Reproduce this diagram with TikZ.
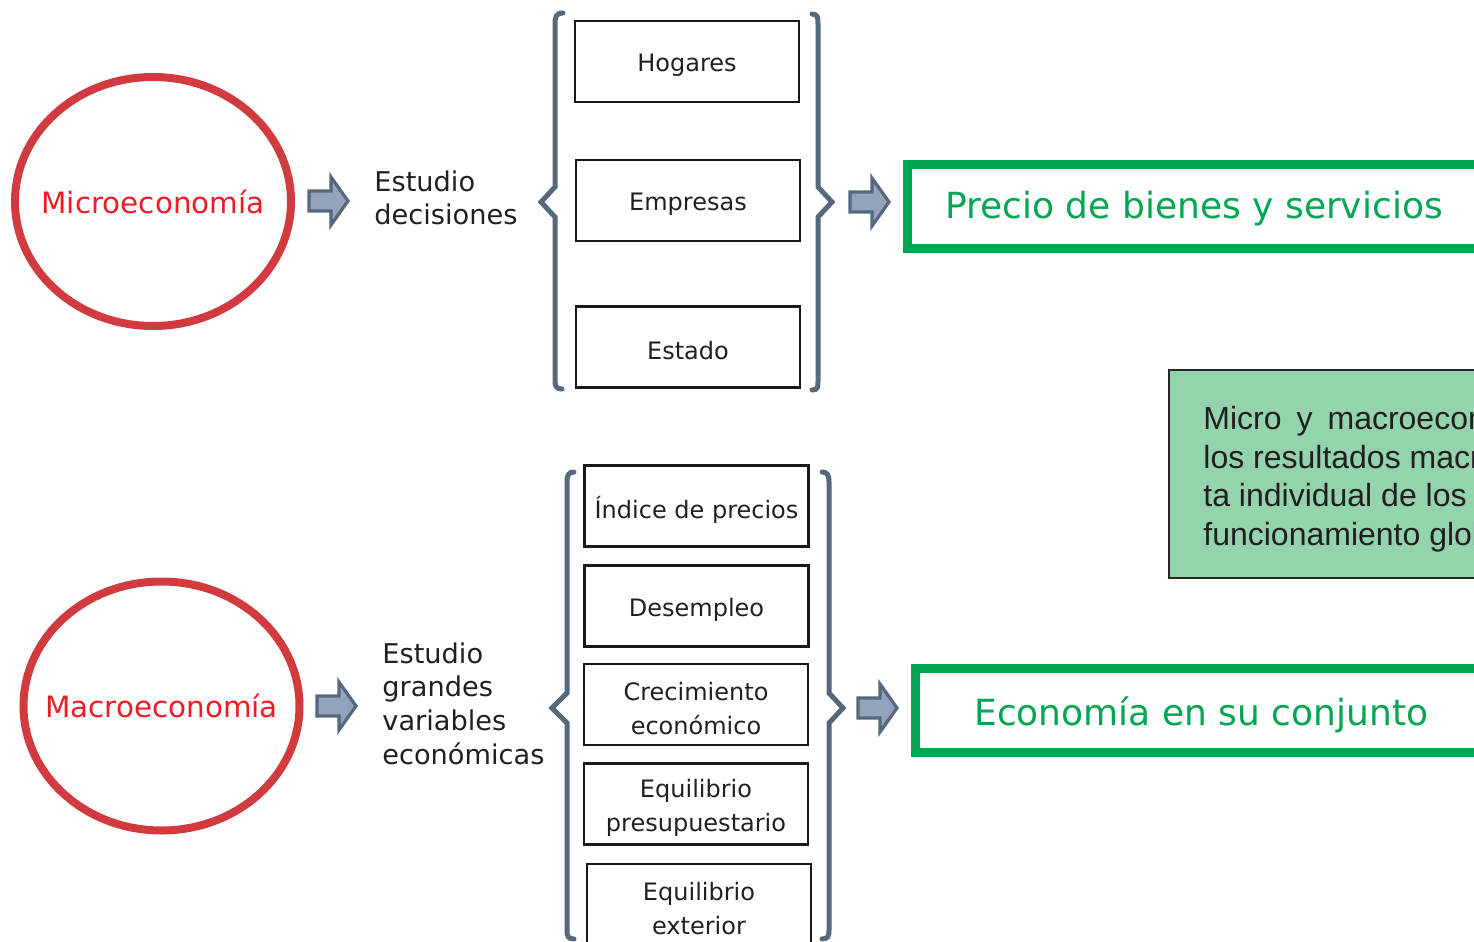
\documentclass[tikz,border=0pt]{standalone}
\usepackage{fontspec}
\setmainfont{DejaVu Sans}
\newfontfamily\arialfont{Liberation Sans}
\usetikzlibrary{shapes.geometric}

\definecolor{ovalred}{HTML}{D13B3F}
\definecolor{ovaltext}{HTML}{EE1C25}
\definecolor{bracegray}{HTML}{56687C}
\definecolor{arrowfill}{HTML}{94A3BC}
\definecolor{boxgreen}{HTML}{00A651}
\definecolor{notefill}{HTML}{93D4AC}
\definecolor{inktext}{HTML}{231F20}

\begin{document}
\begin{tikzpicture}[x=0.5pt,y=-0.5pt,
  oval/.style={ellipse,draw=ovalred,line width=4pt,inner sep=0pt,minimum width=138pt,minimum height=124.5pt},
  ovaltext/.style={inner sep=0pt,text=ovaltext,font=\fontsize{14.7}{16}\selectfont},
  item/.style={draw=black!90,line width=1.3pt,minimum width=112pt,minimum height=40.5pt,inner sep=0pt},
  itemtext/.style={align=center,inner sep=0pt,yshift=-2pt,text=inktext,font=\fontsize{12}{17}\selectfont},
  lbl/.style={anchor=west,align=left,inner sep=0pt,text=inktext,font=\fontsize{13.6}{16.8}\selectfont},
  brace/.style={draw=bracegray,line width=2.5pt,line cap=round},
  fat/.style={draw=bracegray,fill=arrowfill,line width=1.6pt},
  result/.style={draw=boxgreen,line width=4.5pt},
  resulttext/.style={anchor=west,inner sep=0pt,text=boxgreen,font=\fontsize{18}{20}\selectfont}]

\useasboundingbox (0,0) rectangle (1474,942);
\clip (0,0) rectangle (1474,942);

\node[oval] (micro) at (153,201.5) {};

\node[ovaltext] (micro-txt) at (micro) {Microeconom\'ia};

\draw[fat] (309,191) -- ++(22,0) -- ++(0,-14) -- ++(17,24) -- ++(-17,24) -- ++(0,-14) -- ++(-22,0) -- cycle;

\node[lbl] (micro-lbl) at (374,198) {Estudio\\decisiones};

\draw[brace] (563,13) .. controls (556,13) and (555,17) .. (555,24) -- (555,187) -- (541,202) -- (555,217) -- (555,380) .. controls (555,386) and (556,389) .. (562,389);

\node[item,label={[itemtext]center:Hogares}] (hogares) at (687,61.5) {};

\node[item,label={[itemtext]center:Empresas}] (empresas) at (688,200.5) {};

\node[item,label={[itemtext]center:Estado}] (estado) at (688,347) {};

\draw[brace] (812,14) .. controls (818,14) and (818,18) .. (818,24) -- (818,187) -- (832,202) -- (818,217) -- (818,381) .. controls (818,387) and (818,390) .. (812,390);

\draw[fat] (850,192) -- ++(22,0) -- ++(0,-14) -- ++(17,24) -- ++(-17,24) -- ++(0,-14) -- ++(-22,0) -- cycle;

\draw[result] (907.5,164.5) rectangle (1520,248.5);

\node[resulttext] (bienes) at (945,209) {Precio de bienes y servicios};

\draw[fill=notefill,draw=black!85,line width=1pt] (1169,370) rectangle (1520,578);

\node[anchor=west,align=left,inner sep=0pt,text=inktext,font=\arialfont\fontsize{16}{19.4}\selectfont] (nota) at (1203,479) {Micro\hspace{7.5pt}y\hspace{7.5pt}macroeconom\'ia\\los resultados macroecon\'omicos\\ta individual de los agentes\\funcionamiento global};

\node[oval] (macro) at (161.5,706) {};

\node[ovaltext] (macro-txt) at (macro) {Macroeconom\'ia};

\draw[fat] (317,696) -- ++(22,0) -- ++(0,-14) -- ++(17,24) -- ++(-17,24) -- ++(0,-14) -- ++(-22,0) -- cycle;

\node[lbl] (macro-lbl) at (382,703.5) {Estudio\\grandes\\variables\\econ\'omicas};

\draw[brace] (574,472) .. controls (568,472) and (567,476) .. (567,482) -- (567,693) -- (552,708) -- (567,723) -- (567,930) .. controls (567,936) and (568,939) .. (574,939);

\node[item,label={[itemtext]center:\'Indice de precios}] (precios) at (696.5,506) {};

\node[item,label={[itemtext]center:Desempleo}] (desempleo) at (696.5,606) {};

\node[item,label={[itemtext]center:{Crecimiento\\econ\'omico}}] (crecimiento) at (696,704.5) {};

\node[item,label={[itemtext]center:{Equilibrio\\presupuestario}}] (presupuesto) at (696,804) {};

\node[item,label={[itemtext]center:{Equilibrio\\exterior}}] (exterior) at (699,904.5) {};

\draw[brace] (822,472) .. controls (828,472) and (829,476) .. (829,482) -- (829,693) -- (843,708) -- (829,723) -- (829,930) .. controls (829,936) and (828,939) .. (822,939);

\draw[fat] (858,698) -- ++(22,0) -- ++(0,-14) -- ++(17,24) -- ++(-17,24) -- ++(0,-14) -- ++(-22,0) -- cycle;

\draw[result] (915.5,668.5) rectangle (1520,752.5);

\node[resulttext] (conjunto) at (974,715) {Econom\'ia en su conjunto};

\end{tikzpicture}
\end{document}
